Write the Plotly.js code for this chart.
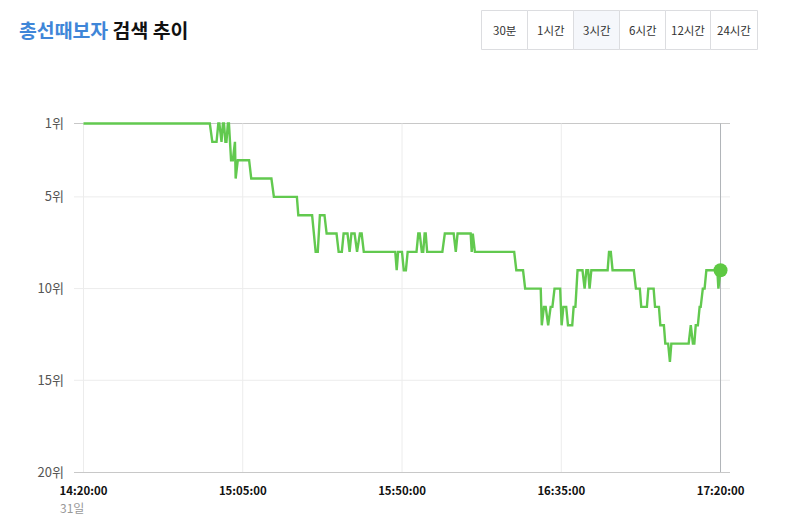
<!DOCTYPE html>
<html><head><meta charset="utf-8">
<script src="https://cdn.plot.ly/plotly-3.0.1.min.js"></script>
<style>html,body{margin:0;padding:0;background:#fff}#c{width:787px;height:524px}</style>
</head><body><div id="c"></div>
<script>
// minutes after 14:20:00
const minutes = [0,35.7,36.4,37.6,38.1,38.4,39.0,39.4,39.7,40.1,40.4,40.8,41.1,41.7,42.2,42.8,43.0,43.6,46.8,47.4,53.1,53.8,60.3,60.7,64.6,65.6,66.2,66.8,68.1,68.7,71.5,72.1,73.0,73.5,74.6,75.2,75.7,76.6,77.3,78.1,78.6,79.2,88.1,88.5,88.9,90.0,90.5,91.1,91.6,94.1,94.6,95.0,95.6,96.0,96.4,96.7,97.1,101.4,102.1,104.6,105.2,105.7,109.4,109.7,110.0,110.6,121.7,122.3,124.2,124.8,129.2,129.5,130.1,130.6,131.3,132.0,132.5,133.1,134.7,135.1,135.6,136.4,136.9,138.1,138.5,139.0,139.6,141.0,141.6,142.1,142.6,143.0,143.5,148.1,148.5,149.0,149.5,155.5,156.1,157.2,157.6,159.2,159.6,161.1,161.5,162.6,163.0,164.0,164.4,165.2,165.7,166.1,171.0,171.6,172.2,172.6,173.0,173.6,174.1,174.4,175.0,175.5,176.0,179.1,179.4,179.8,180];
const ranks = [1,1,2,2,1,1,2,1,1,2,2,1,1,3,3,2,4,3,3,4,4,5,5,6,6,8,8,6,6,7,7,8,8,7,7,8,7,7,8,7,7,8,8,9,8,8,9,9,8,8,7,7,8,8,7,7,8,8,7,7,8,7,7,8,7,8,8,9,9,10,10,12,11,11,12,11,11,10,10,12,11,11,12,12,11,11,9,9,10,9,9,10,9,9,8,8,9,9,10,10,11,11,10,10,11,11,12,12,13,13,14,13,13,12,13,13,12,12,11,11,10,10,9,9,10,9,9];
const xTickVals = [0,45,90,135,180];
const xTickText = ['14:20:00','15:05:00','15:50:00','16:35:00','17:20:00'];
const yTickVals = [1,5,10,15,20];
const yTickText = ['1위','5위','10위','15위','20위'];
const buttonLabels = ['30분','1시간','3시간','6시간','12시간','24시간'];
const buttonEdges = [481.5,527.5,573.5,619.5,665.5,710.5,757.5];
const selectedButton = 2;

const FONT = '"Noto Sans CJK KR","Noto Sans",sans-serif';
const L=74,R=730,T=113,B=472;
const px = v => (v-L)/(R-L);
const py = v => (B-v)/(B-T);

const shapes = [];
yTickVals.slice(0,-1).forEach((v,i)=>{
  shapes.push({type:'line',xref:'paper',yref:'y',x0:0,x1:1,y0:v,y1:v,layer:'between',
    line:{color:i===0?'#c8c8c8':'#ececec',width:1}});
});
xTickVals.forEach((v,i)=>{
  shapes.push({type:'line',xref:'x',yref:'y',x0:v,x1:v,y0:1,y1:20,layer:'between',
    line:{color:i===xTickVals.length-1?'#b0b4b8':'#ececec',width:1}});
});
const annotations = [
  {xref:'paper',yref:'paper',x:px(16.5),y:py(29),xanchor:'left',yanchor:'middle',showarrow:false,
   text:'<b><span style="color:#3f86d8">총선때보자</span> 검색 추이</b>',font:{family:FONT,size:19.4,color:'#111'}},
  {xref:'paper',yref:'paper',x:px(58),y:py(507),xanchor:'left',yanchor:'middle',showarrow:false,
   text:'31일',font:{family:FONT,size:12,color:'#999'}}
];
buttonLabels.forEach((t,i)=>{
  shapes.push({type:'rect',xref:'paper',yref:'paper',x0:px(buttonEdges[i]),x1:px(buttonEdges[i+1]),y0:py(49.5),y1:py(10.5),
    line:{color:'#dcdde0',width:1},fillcolor:i===selectedButton?'#f5f7fb':'#ffffff'});
  annotations.push({xref:'paper',yref:'paper',x:px((buttonEdges[i]+buttonEdges[i+1])/2),y:py(30),xanchor:'center',yanchor:'middle',
    showarrow:false,text:t,font:{family:FONT,size:11.5,color:'#333'}});
});

Plotly.newPlot('c',[
  {x:minutes,y:ranks,type:'scatter',mode:'lines',line:{color:'#62c94f',width:2.4,shape:'linear'},cliponaxis:false,hoverinfo:'skip'},
  {x:minutes.slice(-1),y:ranks.slice(-1),type:'scatter',mode:'markers',marker:{color:'#5ec943',size:14},cliponaxis:false,hoverinfo:'skip'}
],{
  width:787,height:524,showlegend:false,paper_bgcolor:'#fff',plot_bgcolor:'#fff',
  margin:{l:L,r:787-R,t:T,b:524-B,pad:0},
  xaxis:{range:[-2.68,182.68],tickmode:'array',tickvals:xTickVals,ticktext:xTickText,showgrid:false,
    zeroline:false,showline:true,linecolor:'#c8c8c8',linewidth:1,ticks:'',ticklen:0,ticklabelstandoff:8,
    tickfont:{family:FONT,size:11.4,color:'#111',weight:700},automargin:false},
  yaxis:{range:[20,1-10.5/18.342],tickmode:'array',tickvals:yTickVals,ticktext:yTickText,showgrid:false,
    zeroline:false,showline:false,ticks:'',ticklen:0,ticklabelstandoff:9,
    tickfont:{family:FONT,size:13,color:'#555'},automargin:false},
  shapes,annotations
},{displayModeBar:false,staticPlot:true});
</script></body></html>
